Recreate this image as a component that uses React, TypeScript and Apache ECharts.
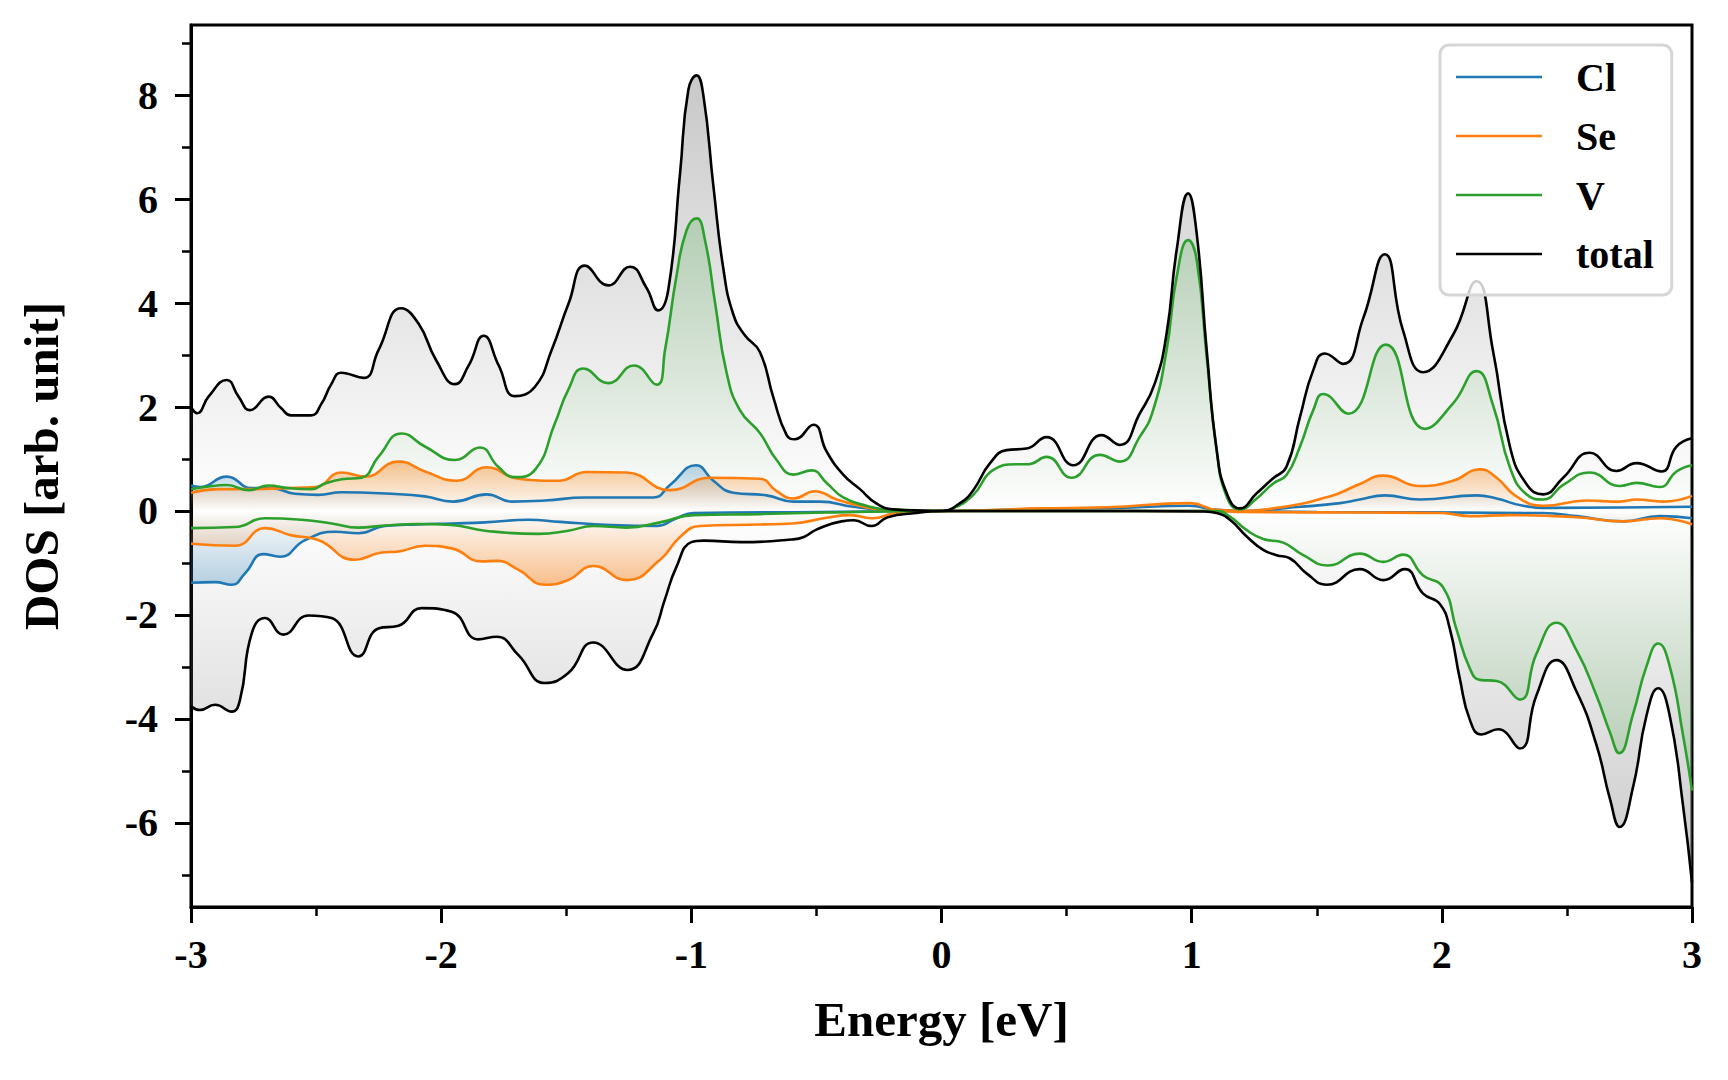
import React, { useEffect, useRef } from "react";
import * as echarts from "echarts";

// ---------- data ----------
const energyTicks = [-3, -2, -1, 0, 1, 2, 3];
const dosMajorTicks = [-6, -4, -2, 0, 2, 4, 6, 8];
const dosMinorTicks = [-7, -5, -3, -1, 1, 3, 5, 7, 9];
const legendNames = ["Cl", "Se", "V", "total"];

const totalUp: [number, number][] = [
  [-3.0, 2.0], [-2.975, 1.88], [-2.93, 2.2], [-2.857, 2.52], [-2.81, 2.2], [-2.764, 1.94], [-2.69, 2.2],
  [-2.64, 1.98], [-2.6, 1.84], [-2.52, 1.84], [-2.48, 2.05], [-2.438, 2.45], [-2.4, 2.66], [-2.31, 2.56],
  [-2.25, 3.1], [-2.16, 3.9], [-2.09, 3.6], [-2.02, 2.9], [-1.945, 2.44], [-1.89, 2.8], [-1.83, 3.37],
  [-1.77, 2.8], [-1.705, 2.21], [-1.625, 2.39], [-1.558, 3.1], [-1.49, 4.0], [-1.425, 4.72], [-1.332, 4.34],
  [-1.245, 4.7], [-1.18, 4.3], [-1.132, 3.86], [-1.092, 4.26], [-1.045, 6.5], [-1.012, 8.1], [-0.979, 8.38],
  [-0.952, 8.0], [-0.912, 6.26], [-0.872, 4.66], [-0.832, 3.78], [-0.786, 3.38], [-0.726, 3.06], [-0.672, 2.18],
  [-0.619, 1.46], [-0.586, 1.38], [-0.512, 1.66], [-0.459, 1.14], [-0.393, 0.7], [-0.326, 0.42], [-0.259, 0.14],
  [-0.193, 0.03], [-0.06, 0.005], [0, 0],
  [0.074, 0.15], [0.127, 0.4], [0.194, 0.92], [0.26, 1.17], [0.34, 1.2], [0.42, 1.42], [0.527, 0.88],
  [0.64, 1.46], [0.713, 1.27], [0.793, 1.88], [0.853, 2.46], [0.9, 3.42], [0.94, 5.02], [0.986, 6.11],
  [1.02, 5.34], [1.06, 3.1], [1.1, 1.17], [1.14, 0.34], [1.193, 0.05], [1.26, 0.34], [1.326, 0.63],
  [1.379, 0.85], [1.433, 1.81], [1.486, 2.71], [1.532, 3.03], [1.606, 2.83], [1.686, 3.71], [1.772, 4.94],
  [1.845, 3.47], [1.925, 2.67], [2.045, 3.39], [2.139, 4.42], [2.205, 3.07], [2.272, 1.24], [2.338, 0.52],
  [2.405, 0.32], [2.485, 0.64], [2.591, 1.12], [2.698, 0.77], [2.778, 0.92], [2.878, 0.76], [2.938, 1.24],
  [3.0, 1.4],
];

const totalDown: [number, number][] = [
  [-3.0, -3.76], [-2.964, -3.83], [-2.904, -3.73], [-2.837, -3.86], [-2.804, -3.63], [-2.757, -2.35],
  [-2.704, -2.06], [-2.631, -2.38], [-2.531, -2.01], [-2.438, -2.06], [-2.331, -2.8], [-2.251, -2.26],
  [-2.171, -2.21], [-2.078, -1.87], [-1.958, -1.94], [-1.852, -2.47], [-1.778, -2.42], [-1.692, -2.77],
  [-1.585, -3.31], [-1.492, -3.12], [-1.392, -2.53], [-1.256, -3.06], [-1.153, -2.36], [-1.107, -1.72],
  [-1.06, -1.08], [-1.0, -0.6], [-0.95, -0.57], [-0.8, -0.6], [-0.6, -0.55], [-0.55, -0.5], [-0.5, -0.36],
  [-0.4, -0.2], [-0.35, -0.18], [-0.28, -0.29], [-0.215, -0.12], [-0.1, -0.04], [0, 0], [0.5, 0],
  [1.05, -0.01], [1.1, -0.04], [1.153, -0.17], [1.22, -0.49], [1.286, -0.75], [1.339, -0.85], [1.392, -0.91],
  [1.459, -1.2], [1.54, -1.42], [1.672, -1.12], [1.766, -1.33], [1.852, -1.12], [1.925, -1.59],
  [1.992, -1.79], [2.032, -2.27], [2.072, -3.23], [2.112, -4.02], [2.158, -4.3], [2.225, -4.2],
  [2.312, -4.57], [2.378, -3.55], [2.458, -2.87], [2.538, -3.47], [2.618, -4.5], [2.672, -5.54],
  [2.711, -6.08], [2.765, -5.3], [2.818, -3.94], [2.865, -3.41], [2.911, -3.94], [2.965, -5.7], [3.0, -7.15],
];

const vUp: [number, number][] = [
  [-3.0, 0.42], [-2.944, 0.46], [-2.857, 0.5], [-2.77, 0.4], [-2.69, 0.49], [-2.61, 0.44], [-2.518, 0.42],
  [-2.464, 0.53], [-2.398, 0.61], [-2.318, 0.64], [-2.251, 1.04], [-2.158, 1.49], [-2.065, 1.24],
  [-1.945, 0.98], [-1.845, 1.22], [-1.772, 0.85], [-1.705, 0.65], [-1.625, 0.79], [-1.545, 1.69],
  [-1.492, 2.33], [-1.432, 2.74], [-1.332, 2.46], [-1.229, 2.8], [-1.139, 2.43], [-1.105, 3.1],
  [-1.06, 4.5], [-1.019, 5.4], [-0.979, 5.63], [-0.945, 5.2], [-0.905, 4.0], [-0.859, 2.66],
  [-0.806, 1.94], [-0.726, 1.5], [-0.659, 0.98], [-0.592, 0.7], [-0.519, 0.78], [-0.459, 0.54],
  [-0.393, 0.26], [-0.3, 0.1], [-0.22, 0.03], [0, 0],
  [0.047, 0.05], [0.127, 0.31], [0.207, 0.79], [0.3, 0.9], [0.347, 0.9], [0.42, 1.04], [0.52, 0.64],
  [0.633, 1.08], [0.713, 0.95], [0.793, 1.43], [0.846, 1.94], [0.9, 3.1], [0.94, 4.5], [0.986, 5.21],
  [1.02, 4.83], [1.06, 2.97], [1.1, 1.17], [1.14, 0.28], [1.193, 0.03], [1.26, 0.24], [1.326, 0.53],
  [1.379, 0.69], [1.433, 1.24], [1.486, 1.94], [1.526, 2.25], [1.626, 1.87], [1.776, 3.2], [1.932, 1.58],
  [2.045, 2.07], [2.139, 2.69], [2.205, 2.03], [2.272, 0.84], [2.338, 0.32], [2.405, 0.22], [2.485, 0.5],
  [2.591, 0.74], [2.711, 0.48], [2.778, 0.54], [2.871, 0.46], [2.938, 0.76], [3.0, 0.88],
];

const vDown: [number, number][] = [
  [-3.0, -0.33], [-2.824, -0.31], [-2.704, -0.14], [-2.558, -0.17], [-2.438, -0.24], [-2.331, -0.32],
  [-2.225, -0.28], [-2.091, -0.25], [-1.958, -0.27], [-1.825, -0.38], [-1.612, -0.44], [-1.492, -0.38],
  [-1.392, -0.29], [-1.259, -0.32], [-1.125, -0.22], [-0.992, -0.08], [-0.726, -0.06], [-0.459, -0.03],
  [0, 0], [0.6, 0], [1.1, 0], [1.153, -0.11], [1.22, -0.37], [1.286, -0.54], [1.366, -0.61], [1.446, -0.85],
  [1.545, -1.05], [1.672, -0.82], [1.766, -0.98], [1.845, -0.84], [1.925, -1.24], [2.005, -1.47],
  [2.058, -2.27], [2.112, -3.03], [2.152, -3.25], [2.219, -3.27], [2.312, -3.63], [2.378, -2.75],
  [2.458, -2.15], [2.538, -2.68], [2.618, -3.55], [2.672, -4.26], [2.709, -4.66], [2.765, -3.9],
  [2.818, -2.99], [2.865, -2.55], [2.911, -2.99], [2.965, -4.34], [3.0, -5.38],
];

const seUp: [number, number][] = [
  [-3.0, 0.35], [-2.89, 0.42], [-2.757, 0.42], [-2.624, 0.44], [-2.504, 0.46], [-2.398, 0.74], [-2.305, 0.66],
  [-2.171, 0.95], [-2.065, 0.76], [-1.938, 0.58], [-1.818, 0.84], [-1.692, 0.62], [-1.532, 0.58],
  [-1.418, 0.75], [-1.259, 0.74], [-1.085, 0.4], [-0.926, 0.64], [-0.726, 0.62], [-0.659, 0.38],
  [-0.592, 0.24], [-0.506, 0.38], [-0.419, 0.22], [-0.326, 0.1], [-0.246, 0.03], [0, 0],
  [0.393, 0.05], [0.66, 0.07], [0.993, 0.15], [1.1, 0.02], [1.19, 0.0], [1.326, 0.05], [1.45, 0.15],
  [1.52, 0.24], [1.579, 0.32], [1.672, 0.52], [1.766, 0.68], [1.912, 0.48], [2.045, 0.58], [2.152, 0.8],
  [2.219, 0.64], [2.298, 0.28], [2.405, 0.1], [2.578, 0.2], [2.711, 0.18], [2.778, 0.22], [2.884, 0.18],
  [3.0, 0.29],
];

const seDown: [number, number][] = [
  [-3.0, -0.63], [-2.824, -0.67], [-2.704, -0.33], [-2.598, -0.47], [-2.491, -0.56], [-2.345, -0.94],
  [-2.238, -0.8], [-2.171, -0.78], [-2.065, -0.67], [-1.958, -0.72], [-1.838, -0.97], [-1.778, -0.96],
  [-1.692, -1.13], [-1.585, -1.42], [-1.492, -1.33], [-1.392, -1.06], [-1.259, -1.33], [-1.125, -0.94],
  [-1.045, -0.5], [-0.965, -0.29], [-0.726, -0.26], [-0.592, -0.24], [-0.459, -0.13], [-0.366, -0.08],
  [-0.273, -0.14], [-0.193, -0.05], [0, 0], [0.6, 0], [1.1, 0], [1.2, -0.02], [1.7, -0.03], [2.0, -0.04],
  [2.112, -0.1], [2.272, -0.08], [2.538, -0.12], [2.725, -0.2], [2.871, -0.14], [3.0, -0.26],
];

const clUp: [number, number][] = [
  [-3.0, 0.49], [-2.964, 0.46], [-2.857, 0.66], [-2.757, 0.44], [-2.678, 0.44], [-2.584, 0.33],
  [-2.491, 0.31], [-2.398, 0.36], [-2.198, 0.33], [-2.065, 0.28], [-1.952, 0.18], [-1.818, 0.32],
  [-1.718, 0.18], [-1.585, 0.2], [-1.425, 0.26], [-1.152, 0.26], [-1.085, 0.5], [-0.981, 0.88],
  [-0.912, 0.58], [-0.832, 0.35], [-0.699, 0.3], [-0.592, 0.18], [-0.486, 0.18], [-0.353, 0.08],
  [-0.246, 0.03], [0, 0], [0.4, 0.04], [0.7, 0.06], [0.99, 0.1], [1.1, 0.02], [1.2, 0.0], [1.433, 0.08],
  [1.593, 0.15], [1.672, 0.22], [1.772, 0.3], [1.912, 0.22], [2.139, 0.3], [2.219, 0.24], [2.325, 0.1],
  [2.431, 0.06], [3.0, 0.08],
];

const clDown: [number, number][] = [
  [-3.0, -1.38], [-2.904, -1.37], [-2.837, -1.42], [-2.784, -1.2], [-2.711, -0.83], [-2.644, -0.88],
  [-2.544, -0.56], [-2.424, -0.4], [-2.331, -0.43], [-2.225, -0.29], [-2.091, -0.26], [-1.958, -0.24],
  [-1.825, -0.22], [-1.652, -0.17], [-1.525, -0.21], [-1.325, -0.27], [-1.139, -0.29], [-1.059, -0.14],
  [-0.992, -0.04], [-0.5, -0.02], [0, 0], [1.1, 0], [1.5, -0.02], [2.405, -0.04], [2.538, -0.1],
  [2.725, -0.2], [2.871, -0.1], [3.0, -0.14],
];

// ---------- styles ----------
const FONT = "Liberation Serif";
const SMOOTH = 0.5;
const lineColors: Record<string, string> = { Cl: "#1f77b4", Se: "#ff7f0e", V: "#2ca02c", total: "#000000" };
const fillRgb: Record<string, string> = { Cl: "31,119,180", Se: "255,127,14", V: "44,160,44", total: "128,128,128" };
const fillAlpha: Record<string, number> = { Cl: 0.3, Se: 0.45, V: 0.22, total: 0.43 };

const seriesData: { name: string; up: [number, number][]; down: [number, number][] }[] = [
  { name: "Cl", up: clUp, down: clDown },
  { name: "Se", up: seUp, down: seDown },
  { name: "V", up: vUp, down: vDown },
  { name: "total", up: totalUp, down: totalDown },
];

function grad(name: string, up: boolean) {
  const c = fillRgb[name];
  const a = fillAlpha[name];
  const strong = `rgba(${c},${a})`;
  const weak = `rgba(${c},0)`;
  return new echarts.graphic.LinearGradient(0, 0, 0, 1, [
    { offset: 0, color: up ? strong : weak },
    { offset: 1, color: up ? weak : strong },
  ]);
}

export default function App() {
  const ref = useRef<HTMLDivElement>(null);

  useEffect(() => {
    document.body.style.margin = "0";
    if (!ref.current) return;
    const chart = echarts.init(ref.current, undefined, { renderer: "svg" });

    const lineSeries: any[] = [];
    const fillSeries: any[] = [];
    const fillOrder = ["total", "Cl", "Se", "V"];
    fillOrder.forEach((nm) => {
      const s = seriesData.find((d) => d.name === nm)!;
      [true, false].forEach((up) => {
        fillSeries.push({
          name: nm + (up ? " up fill" : " down fill"),
          type: "line",
          data: up ? s.up : s.down,
          smooth: SMOOTH,
          symbol: "none",
          silent: true,
          z: 1,
          lineStyle: { width: 0, opacity: 0 },
          areaStyle: { color: grad(nm, up), opacity: 1 },
        });
      });
    });
    seriesData.forEach((s) => {
      [s.up, s.down].forEach((d) => {
        lineSeries.push({
          name: s.name,
          type: "line",
          data: d,
          smooth: SMOOTH,
          symbol: "none",
          showSymbol: false,
          silent: true,
          z: 3,
          lineStyle: { color: lineColors[s.name], width: 2.6 },
          itemStyle: { color: lineColors[s.name] },
        });
      });
    });

    const tickLabel = { fontFamily: FONT, fontWeight: "bold", fontSize: 40, color: "#000" };

    chart.setOption({
      animation: false,
      backgroundColor: "#ffffff",
      grid: {
        left: 191,
        right: 36,
        top: 25,
        bottom: 173,
        show: true,
        borderColor: "#000",
        borderWidth: 3,
        backgroundColor: "transparent",
      },
      legend: {
        data: legendNames,
        orient: "vertical",
        left: 1440,
        top: 45,
        icon: "rect",
        itemWidth: 86,
        itemHeight: 2.6,
        itemGap: 19,
        padding: [12, 18, 21, 16],
        backgroundColor: "rgba(255,255,255,0.8)",
        borderColor: "#d6d6d6",
        borderWidth: 3,
        borderRadius: 9,
        selectedMode: false,
        textStyle: { ...tickLabel, lineHeight: 40, padding: [0, 0, 0, 29] },
      },
      xAxis: {
        type: "value",
        min: -3,
        max: 3,
        interval: 1,
        name: "Energy [eV]",
        nameLocation: "middle",
        nameGap: 88,
        nameTextStyle: { fontFamily: FONT, fontWeight: "bold", fontSize: 49, color: "#000" },
        axisLine: { show: true, onZero: false, lineStyle: { color: "#000", width: 3 } },
        axisTick: { show: true, inside: false, length: 16, lineStyle: { color: "#000", width: 3 } },
        minorTick: { show: true, splitNumber: 2, length: 9, lineStyle: { color: "#000", width: 2.5 } },
        axisLabel: { ...tickLabel, margin: 27, customValues: energyTicks, formatter: (v: number) => String(v) },
        splitLine: { show: false },
        minorSplitLine: { show: false },
      },
      yAxis: [
        {
          type: "value",
          min: -7.62,
          max: 9.35,
          name: "DOS [arb. unit]",
          nameLocation: "middle",
          nameGap: 125,
          nameTextStyle: { fontFamily: FONT, fontWeight: "bold", fontSize: 49, color: "#000" },
          axisLine: { show: true, onZero: false, lineStyle: { color: "#000", width: 3 } },
          axisTick: {
            show: true,
            inside: false,
            length: 16,
            customValues: dosMajorTicks,
            lineStyle: { color: "#000", width: 3 },
          },
          axisLabel: { ...tickLabel, margin: 33, customValues: dosMajorTicks, formatter: (v: number) => String(v) },
          splitLine: { show: false },
        },
        {
          type: "value",
          min: -7.62,
          max: 9.35,
          position: "left",
          axisLine: { show: false, onZero: false },
          axisTick: {
            show: true,
            inside: false,
            length: 9,
            customValues: dosMinorTicks,
            lineStyle: { color: "#000", width: 2.5 },
          },
          axisLabel: { show: false },
          splitLine: { show: false },
        },
      ],
      series: [...fillSeries, ...lineSeries],
    });

    return () => chart.dispose();
  }, []);

  return <div ref={ref} style={{ width: 1728, height: 1080 }} />;
}
